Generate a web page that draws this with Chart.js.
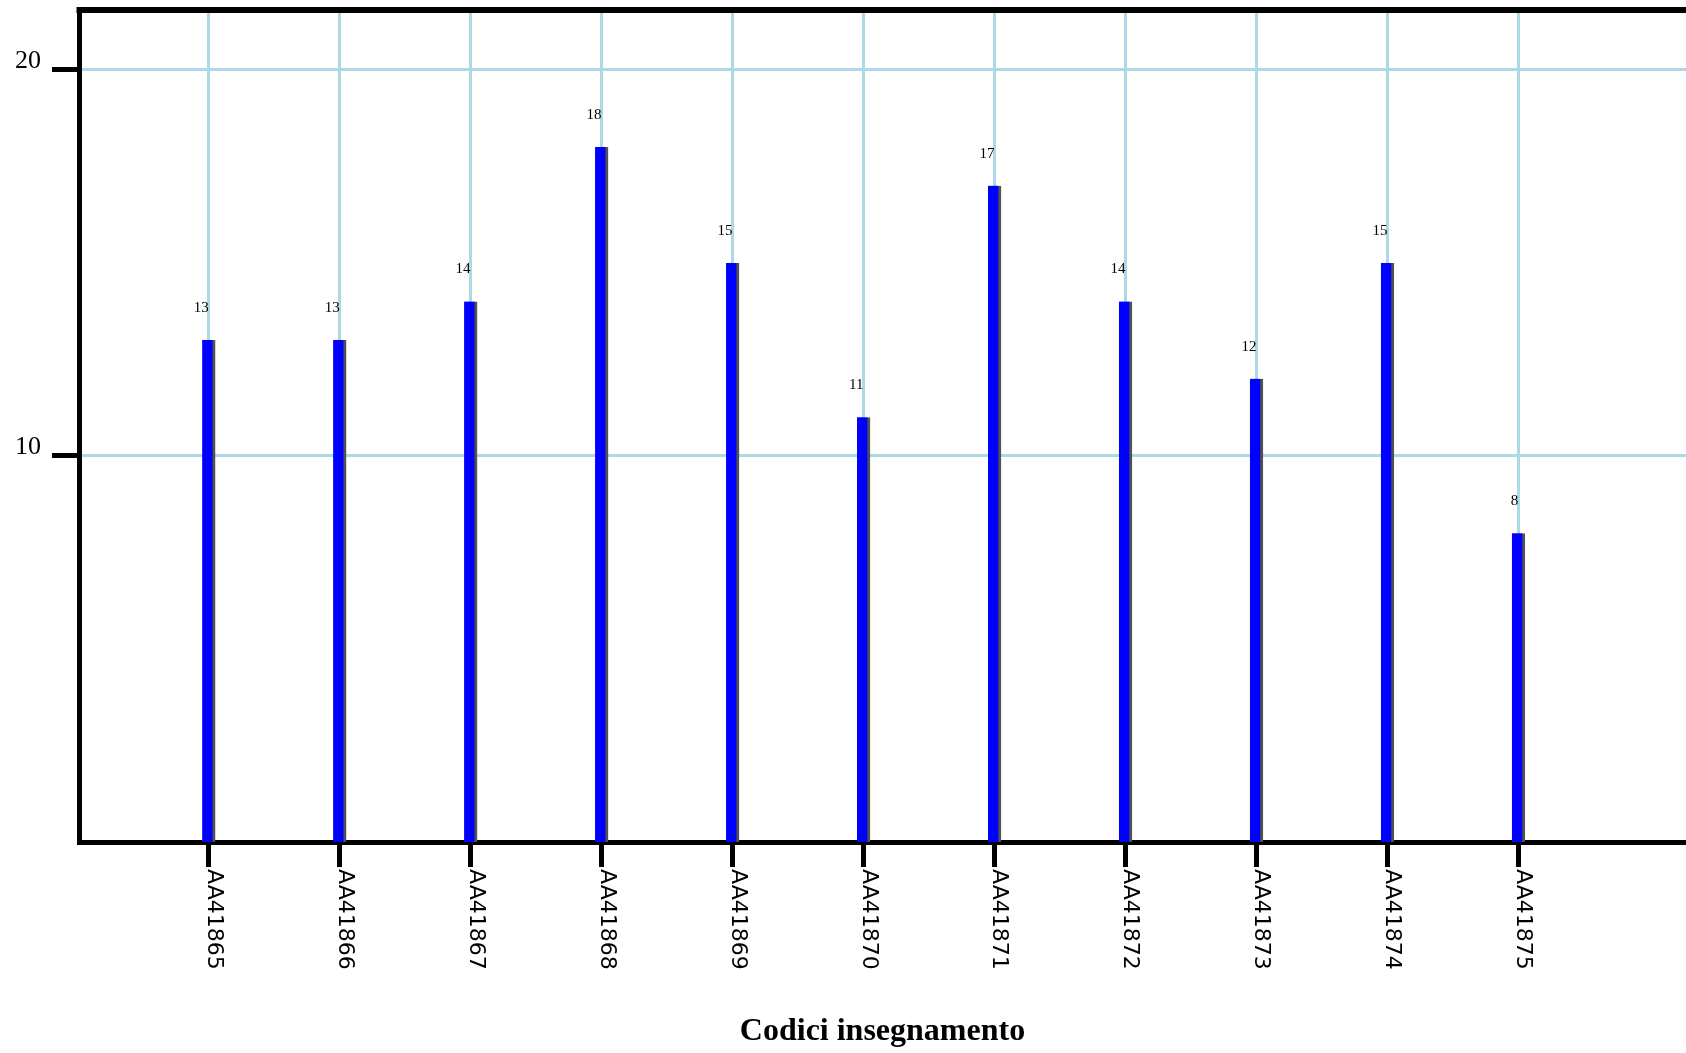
<!DOCTYPE html>
<html>
<head>
<meta charset="utf-8">
<title>Codici insegnamento</title>
<script src="https://cdn.jsdelivr.net/npm/chart.js@4/dist/chart.umd.min.js"></script>
<style>
  html, body { margin: 0; padding: 0; background: #fff; overflow: hidden; }
  #contenitore { width: 1686px; height: 1053px; }
</style>
</head>
<body>
<div id="contenitore"><canvas id="grafico"></canvas></div>
<script>
const codici = ['AA41865', 'AA41866', 'AA41867', 'AA41868', 'AA41869', 'AA41870',
                'AA41871', 'AA41872', 'AA41873', 'AA41874', 'AA41875'];
const valori = [13, 13, 14, 18, 15, 11, 17, 14, 12, 15, 8];
const tickY = [10, 20];
const titoloAsse = 'Codici insegnamento';

const serif = "'Liberation Serif', 'DejaVu Serif', serif";

// etichette sopra le barre + bordo superiore + codici ruotati
const pluginEtichette = {
  id: 'etichette',
  afterDatasetsDraw(chart) {
    const ctx = chart.ctx;
    const meta = chart.getDatasetMeta(0);
    ctx.save();
    ctx.font = '15px ' + serif;
    ctx.fillStyle = '#000';
    ctx.textAlign = 'right';
    ctx.textBaseline = 'alphabetic';
    meta.data.forEach((barra, i) => {
      ctx.fillText(String(valori[i]), barra.x, barra.y - 28);
    });
    ctx.restore();
  },
  afterDraw(chart) {
    const ctx = chart.ctx;
    const area = chart.chartArea;
    const scalaX = chart.scales.x;

    // bordo in alto
    ctx.save();
    ctx.strokeStyle = '#000';
    ctx.lineWidth = 6;
    ctx.beginPath();
    ctx.moveTo(area.left - 2.5, area.top);
    ctx.lineTo(area.right, area.top);
    ctx.stroke();
    ctx.restore();

    // codici scritti dall'alto verso il basso
    ctx.save();
    ctx.font = "22px 'DejaVu Sans', sans-serif";
    ctx.fillStyle = '#000';
    ctx.textAlign = 'left';
    ctx.textBaseline = 'alphabetic';
    codici.forEach((codice, i) => {
      const x = scalaX.getPixelForValue(i);
      ctx.save();
      ctx.translate(x - 1, area.bottom + 27);
      ctx.rotate(Math.PI / 2);
      ctx.fillText(codice, 0, 0);
      ctx.restore();
    });
    ctx.restore();
  }
};

const ctx = document.getElementById('grafico').getContext('2d');
const grafico = new Chart(ctx, {
  type: 'bar',
  data: {
    datasets: [{
      data: valori.map((v, i) => ({ x: i, y: v })),
      backgroundColor: '#0000ff',
      borderColor: '#505050',
      borderWidth: { top: 0, right: 3, bottom: 0, left: 0 },
      borderSkipped: false,
      barThickness: 13
    }]
  },
  options: {
    responsive: true,
    maintainAspectRatio: false,
    animation: false,
    layout: { padding: { top: 10, left: 0, right: 0, bottom: 0 } },
    plugins: {
      legend: { display: false },
      tooltip: { enabled: false }
    },
    scales: {
      x: {
        type: 'linear',
        offset: false,
        min: -0.99,
        max: 11.28,
        afterBuildTicks: (scala) => {
          scala.ticks = codici.map((c, i) => ({ value: i }));
        },
        afterFit: (scala) => {
          scala.height = 211;
          scala.paddingLeft = 0;
          scala.paddingRight = 0;
        },
        ticks: { display: false },
        grid: {
          offset: false,
          color: '#add8e6',
          lineWidth: 3,
          tickColor: '#000',
          tickWidth: 5,
          tickLength: 25
        },
        border: { display: true, color: '#000', width: 5 },
        title: {
          display: true,
          text: titoloAsse,
          color: '#000',
          font: { family: serif, size: 32, weight: 'bold' },
          padding: { top: 0, bottom: 2 }
        }
      },
      y: {
        min: 0,
        max: 21.55,
        afterBuildTicks: (scala) => {
          scala.ticks = tickY.map(v => ({ value: v }));
        },
        afterFit: (scala) => {
          scala.width = 79;
          scala.paddingTop = 0;
          scala.paddingBottom = 0;
        },
        ticks: {
          color: '#000',
          font: { family: serif, size: 26 },
          padding: 11,
          labelOffset: -9
        },
        grid: {
          color: '#add8e6',
          lineWidth: 3,
          tickColor: '#000',
          tickWidth: 5,
          tickLength: 27
        },
        border: { display: true, color: '#000', width: 5 }
      }
    }
  },
  plugins: [pluginEtichette]
});
</script>
</body>
</html>
